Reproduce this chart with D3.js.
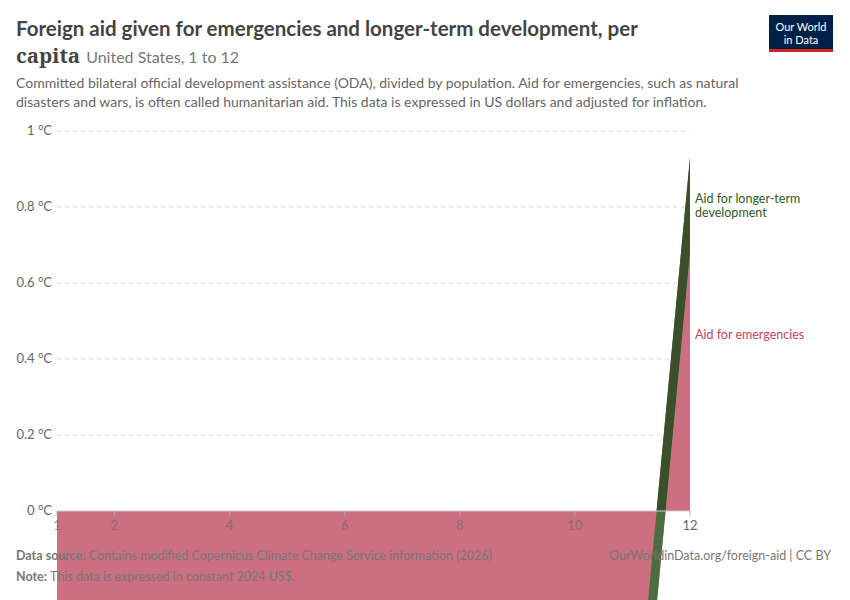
<!DOCTYPE html><html><head><meta charset="utf-8"><script src="https://cdn.jsdelivr.net/npm/d3@7"></script>
<style>body{margin:0;background:#fff}text{font-family:Lato,"Noto Sans",sans-serif}</style></head><body><svg id="c" width="850" height="600"></svg><script>
const years=[1,2,3,4,5,6,7,8,9,10,11,12];
const emergencies=[-0.92,-0.92,-0.92,-0.92,-0.92,-0.92,-0.92,-0.92,-0.92,-0.92,-0.92,0.68];
const development=[0,0,0,0,0,0,0,0,0,0,0.25,0.25];
const yTicks=[0,0.2,0.4,0.6,0.8,1];
const xTicks=[1,2,4,6,8,10,12];
const svg=d3.select("#c");
const x=d3.scaleLinear().domain([1,12]).range([57,690]);
const y=d3.scaleLinear().domain([0,1]).range([511,131]);
yTicks.forEach(t=>{
 if(t>0)svg.append("line").attr("x1",57).attr("x2",690).attr("y1",y(t)).attr("y2",y(t)).attr("stroke","#ddd").attr("stroke-dasharray","4,4");
 svg.append("text").attr("x",52).attr("y",y(t)+4).attr("text-anchor","end").attr("font-size",13).attr("fill","#666").text(t===0?"0 °C":(t===1?"1 °C":t+" °C"));
});
const data=years.map((yr,i)=>({yr,e:emergencies[i],d:development[i]}));
svg.append("path").datum(data).attr("fill","#cc6f80").attr("d",d3.area().x(d=>x(d.yr)).y0(y(0)).y1(d=>y(d.e)));
const gArea=d3.area().x(d=>x(d.yr)).y0(d=>y(d.e)).y1(d=>y(d.e+d.d));
svg.append("path").datum(data).attr("fill","#4a6e3f").attr("d",gArea);
svg.append("clipPath").attr("id","above").append("rect").attr("x",0).attr("y",0).attr("width",850).attr("height",y(0));
svg.append("path").datum(data).attr("fill","#3b5028").attr("clip-path","url(#above)").attr("d",gArea);
svg.append("line").attr("x1",57).attr("x2",690).attr("y1",y(0)).attr("y2",y(0)).attr("stroke","#ccc");
xTicks.forEach(t=>{
 svg.append("line").attr("x1",x(t)).attr("x2",x(t)).attr("y1",y(0)).attr("y2",y(0)+5).attr("stroke","#aaa");
 svg.append("text").attr("x",x(t)).attr("y",530).attr("text-anchor","middle").attr("font-size",13).attr("fill","#666").attr("opacity",t===12?1:0.6).text(t);
});
svg.append("text").attr("x",695).attr("y",203).attr("font-size",12.5).attr("fill","#2f5a1e").selectAll("tspan").data(["Aid for longer-term","development"]).join("tspan").attr("x",695).attr("dy",(d,i)=>i?14:0).text(d=>d);
svg.append("text").attr("x",695).attr("y",339).attr("font-size",12.5).attr("fill","#c2455e").text("Aid for emergencies");
svg.append("text").attr("x",16).attr("y",36).attr("font-family","'Noto Serif','DejaVu Serif',serif").attr("font-size",20.5).attr("font-weight","bold").attr("fill","#444").text("Foreign aid given for emergencies and longer-term development, per");
const t2=svg.append("text").attr("x",16).attr("y",63);
t2.append("tspan").attr("font-family","'Noto Serif','DejaVu Serif',serif").attr("font-size",20.5).attr("font-weight","bold").attr("fill","#444").text("capita");
t2.append("tspan").attr("dx",6).attr("font-size",16).attr("fill","#777").text("United States, 1 to 12");
["Committed bilateral official development assistance (ODA), divided by population. Aid for emergencies, such as natural","disasters and wars, is often called humanitarian aid. This data is expressed in US dollars and adjusted for inflation."].forEach((s,i)=>svg.append("text").attr("x",16).attr("y",88+i*19).attr("font-size",14).attr("fill","#666").text(s));
svg.append("rect").attr("x",769).attr("y",15).attr("width",64).attr("height",37).attr("fill","#002147");
svg.append("rect").attr("x",769).attr("y",49).attr("width",64).attr("height",3).attr("fill","#ce261e");
svg.append("text").attr("x",801).attr("y",31).attr("text-anchor","middle").attr("font-size",11).attr("fill","#fff").text("Our World");
svg.append("text").attr("x",801).attr("y",44).attr("text-anchor","middle").attr("font-size",11).attr("fill","#fff").text("in Data");
const f1=svg.append("text").attr("x",16).attr("y",560).attr("font-size",12.5).attr("fill","#777");
f1.append("tspan").attr("font-weight","bold").text("Data source: ");f1.append("tspan").text("Contains modified Copernicus Climate Change Service information (2026)");
const f2=svg.append("text").attr("x",16).attr("y",581).attr("font-size",12.5).attr("fill","#777");
f2.append("tspan").attr("font-weight","bold").text("Note: ");f2.append("tspan").text("This data is expressed in constant 2024 US$.");
svg.append("text").attr("x",831).attr("y",560).attr("text-anchor","end").attr("font-size",12.5).attr("fill","#777").text("OurWorldinData.org/foreign-aid | CC BY");
</script></body></html>
